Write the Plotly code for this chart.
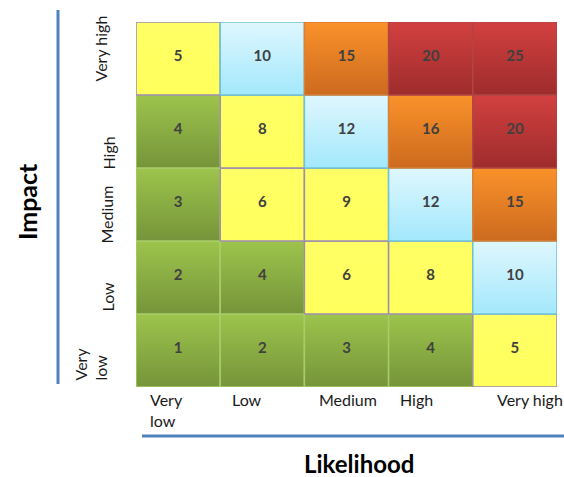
import plotly.graph_objects as go

# Axis categories (likelihood left→right, impact bottom→top)
likelihood = ["Very<br>low", "Low", "Medium", "High", "Very high"]
impact = ["Very<br>low", "Low", "Medium", "High", "Very high"]

# Risk scores, one row per impact level (Very low → Very high)
scores = [
    [1, 2, 3, 4, 5],
    [2, 4, 6, 8, 10],
    [3, 6, 9, 12, 15],
    [4, 8, 12, 16, 20],
    [5, 10, 15, 20, 25],
]

# Rating band of each cell, same layout as scores
bands = [
    ["green", "green", "green", "green", "yellow"],
    ["green", "green", "yellow", "yellow", "blue"],
    ["green", "yellow", "yellow", "blue", "orange"],
    ["green", "yellow", "blue", "orange", "red"],
    ["yellow", "blue", "orange", "red", "red"],
]

# band -> (bottom colour, top colour, border colour)
band_style = {
    "green": ("#76943A", "#9DC44C", "#A9CC6A"),
    "yellow": ("#FFFF5C", "#FFFF66", "#9D8DAE"),
    "blue": ("#A3E8FC", "#DFF7FE", "#6EC3D6"),
    "orange": ("#CC6A1F", "#FA922A", "#D7813A"),
    "red": ("#9E2C2C", "#D34040", "#B24444"),
}

W, H = 564, 477
L, R, T, B = 136, 7, 22, 90
PW, PH = W - L - R, H - T - B

FONT = "Lato, 'Open Sans', sans-serif"
fig = go.Figure()

for r, row in enumerate(scores):
    for c, val in enumerate(row):
        x0, x1 = c + 0.5, c + 1.5
        y0, y1 = r + 0.5, r + 1.5
        bot, top, edge = band_style[bands[r][c]]
        fig.add_trace(go.Scatter(
            x=[x0, x1, x1, x0, x0], y=[y0, y0, y1, y1, y0],
            mode="lines", fill="toself",
            fillgradient=dict(type="vertical",
                              colorscale=[[0, bot], [1, top]]),
            line=dict(color=edge, width=1.5),
            hoverinfo="skip", showlegend=False,
        ))

# Score labels
xs, ys, ts = [], [], []
for r, row in enumerate(scores):
    for c, val in enumerate(row):
        xs.append(c + 1)
        ys.append(r + 1.02)
        ts.append(f"<b>{val}</b>")
fig.add_trace(go.Scatter(
    x=xs, y=ys, text=ts, mode="text",
    textfont=dict(family=FONT, size=15, color="#404040"),
    hoverinfo="skip", showlegend=False,
))

def px_to_paper_x(px):
    return (px - L) / PW

def px_to_paper_y(py):
    return 1 - (py - T) / PH

annotations = []

# Likelihood tick labels (horizontal pixel nudges per label)
x_shift = [-12, -15, 1, -14, 15]
for i, lab in enumerate(likelihood):
    annotations.append(dict(
        x=i + 1, xref="x", y=0, yref="paper",
        xanchor="center", yanchor="top", yshift=-1, xshift=x_shift[i],
        text=lab, showarrow=False, align="left",
        font=dict(family=FONT, size=16, color="#1a1a1a"),
    ))

# Impact tick labels, rotated
y_shift = [-14, -19, -10, -22, 10]
y_xpos = [90, 107, 106, 108, 100]
for i, lab in enumerate(impact):
    annotations.append(dict(
        x=px_to_paper_x(y_xpos[i]), xref="paper", y=i + 1, yref="y",
        xanchor="center", yanchor="middle", yshift=y_shift[i],
        text=lab, showarrow=False, textangle=-90, align="left",
        font=dict(family=FONT, size=16, color="#1a1a1a"),
    ))

# Axis titles
annotations.append(dict(
    x=px_to_paper_x(27), xref="paper", y=px_to_paper_y(202), yref="paper",
    xanchor="center", yanchor="middle", text="<b>Impact</b>",
    textangle=-90, showarrow=False,
    font=dict(family=FONT, size=25, color="#000000"),
))
annotations.append(dict(
    x=px_to_paper_x(359), xref="paper", y=px_to_paper_y(463), yref="paper",
    xanchor="center", yanchor="middle", text="<b>Likelihood</b>",
    showarrow=False, borderpad=0,
    font=dict(family=FONT, size=24, color="#000000"),
))

# Blue axis rules
shapes = [
    dict(type="line", xref="paper", yref="paper",
         x0=px_to_paper_x(58), x1=px_to_paper_x(58),
         y0=px_to_paper_y(10), y1=px_to_paper_y(384),
         line=dict(color="#4F81BD", width=3)),
    dict(type="line", xref="paper", yref="paper",
         x0=px_to_paper_x(142), x1=px_to_paper_x(566),
         y0=px_to_paper_y(436), y1=px_to_paper_y(436),
         line=dict(color="#4F81BD", width=3)),
]

fig.update_layout(
    width=W, height=H, autosize=False,
    margin=dict(l=L, r=R, t=T, b=B, pad=0),
    paper_bgcolor="white", plot_bgcolor="white",
    xaxis=dict(range=[0.5, 5.5], visible=False, fixedrange=True),
    yaxis=dict(range=[0.5, 5.5], visible=False, fixedrange=True),
    annotations=annotations, shapes=shapes,
)

fig.write_html("out.html")
